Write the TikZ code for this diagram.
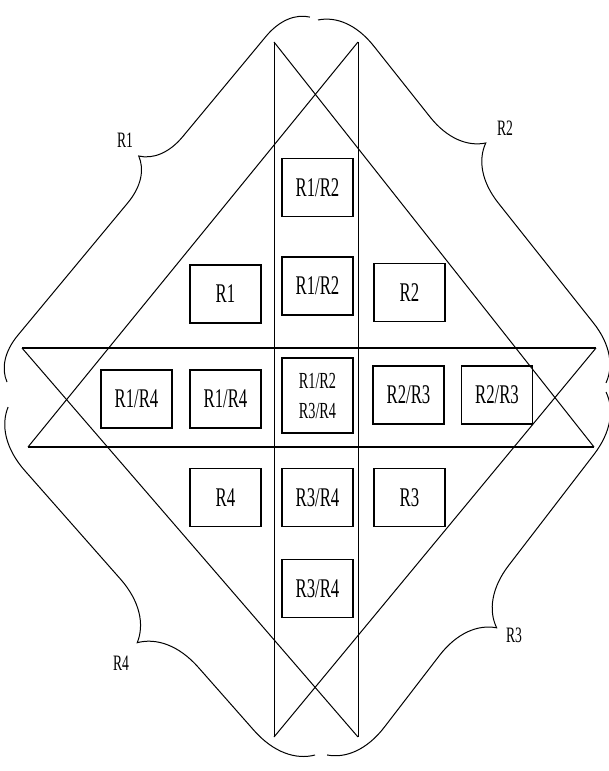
\documentclass[tikz,border=0pt]{standalone}
\usepackage{fontspec}
\setmainfont{Liberation Serif}[FakeStretch=0.62]
\usetikzlibrary{decorations.pathreplacing}

\begin{document}
\begin{tikzpicture}[x=1pt, y=-1pt,
    cell/.style={draw, rectangle, line width=1.4pt, minimum width=71pt, minimum height=58pt, inner sep=0pt, font=\fontsize{27}{30}\selectfont},
    tag/.style={font=\fontsize{22}{26}\selectfont},
    rule/.style={line width=1pt},
    bar/.style={line width=1.6pt},
    bracket/.style 2 args={line width=1pt, decorate, decoration={brace, amplitude=#1, aspect=#2}}]
    \useasboundingbox (0,0) rectangle (609,771);

    % strip ends
    \coordinate (vlt) at (274,42);
    \coordinate (vlb) at (274,737);
    \coordinate (vrt) at (358,42);
    \coordinate (vrb) at (358,737);
    \coordinate (htl) at (22,348);
    \coordinate (htr) at (596,348);
    \coordinate (hbl) at (28,447);
    \coordinate (hbr) at (594,447);

    \draw[rule] (vlt) -- (vlb);
    \draw[rule] (vrt) -- (vrb);
    \draw[bar] (htl) -- (htr);
    \draw[bar] (hbl) -- (hbr);
    \draw[rule] (hbl) -- (vrt);
    \draw[rule] (hbr) -- (vlt);
    \draw[rule] (htl) -- (vrb);
    \draw[rule] (htr) -- (vlb);

    % braces
    \coordinate (b1s) at (7,382);
    \coordinate (b1e) at (310,17);
    \coordinate (b2s) at (318,20);
    \coordinate (b2e) at (606,383);
    \coordinate (b3s) at (606,392);
    \coordinate (b3e) at (327,755);
    \coordinate (b4s) at (315,755);
    \coordinate (b4e) at (8,407);

    \draw[bracket={43pt}{0.544}] (b1s) -- (b1e);
    \draw[bracket={55pt}{0.433}] (b2s) -- (b2e);
    \draw[bracket={57pt}{0.554}] (b3s) -- (b3e);
    \draw[bracket={59pt}{0.435}] (b4s) -- (b4e);

    \node[tag] (lab1) at (125,140) {R1};
    \node[tag] (lab2) at (505,128) {R2};
    \node[tag] (lab3) at (514,635) {R3};
    \node[tag] (lab4) at (121,663) {R4};

    % cells
    \node[cell] (top12) at (317.5,187.5) {R1/R2};
    \node[cell] (r1) at (225.5,294) {R1};
    \node[cell] (mid12) at (317.5,286) {R1/R2};
    \node[cell] (r2) at (409.5,292.5) {R2};
    \node[cell] (out14) at (136.5,399) {R1/R4};
    \node[cell] (in14) at (225.5,399) {R1/R4};
    \node[cell, minimum height=75pt, align=center, font=\fontsize{23}{30}\selectfont] (all) at (317.5,395.5) {R1/R2\\R3/R4};
    \node[cell] (in23) at (408.5,395) {R2/R3};
    \node[cell] (out23) at (497,395) {R2/R3};
    \node[cell] (r4) at (225.5,497.5) {R4};
    \node[cell] (mid34) at (317.5,497.5) {R3/R4};
    \node[cell] (r3) at (409.5,497.5) {R3};
    \node[cell] (low34) at (317.5,588.5) {R3/R4};
\end{tikzpicture}
\end{document}
